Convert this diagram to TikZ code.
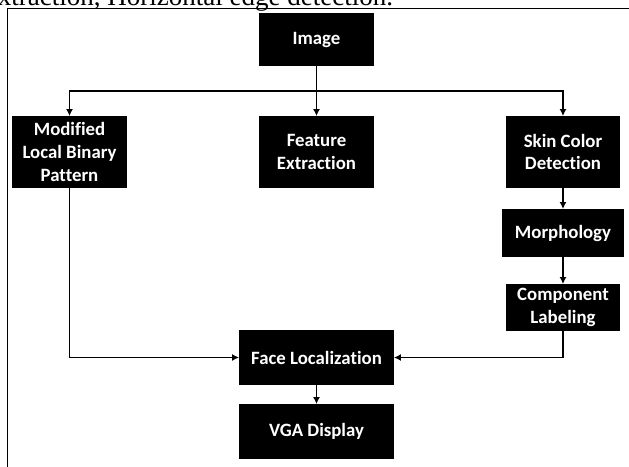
\documentclass[tikz,border=0pt]{standalone}
\usepackage{fontspec}
\setmainfont{Liberation Serif}
\newfontfamily\boxfont[Ligatures={NoCommon,NoContextual}]{Carlito}
\usetikzlibrary{positioning,arrows.meta}

\begin{document}
\begin{tikzpicture}[x=1pt,y=1pt,
  box/.style = {draw, fill=black, text=white, align=center, inner sep=0pt,
    font=\boxfont\bfseries\fontsize{18.8}{22.6}\selectfont,
    minimum width=113pt, minimum height=70pt},
  >={Latex[length=7pt,width=7pt]}, line width=1.9pt]
\useasboundingbox (0,0) rectangle (629,-466);
\draw[line width=1.5pt] (7.3,-480) -- (7.3,-8.3) -- (650,-8.3);
\node[anchor=base west, inner sep=0pt, font=\fontsize{27}{30}\selectfont] (0) at (-3,-5.5) {xtraction, Horizontal edge detection.};
\node[box, minimum height=51pt] (1) at (316.5,-39.5) {Image};
\node[box] (2) [node distance=112.5pt, below of=1] {Feature\\Extraction};
\node[box] (3) [node distance=247pt, left of=2] {Modified\\Local Binary\\Pattern};
\node[box] (4) [node distance=246.5pt, right of=2] {Skin Color\\Detection};
\node[box, minimum width=121pt, minimum height=46pt] (5) [node distance=81pt, below of=4] {Morphology};
\node[box, minimum height=45pt] (6) [node distance=74.5pt, below of=5] {Component\\Labeling};
\node[box, minimum width=153pt, minimum height=53pt] (7) [node distance=205.5pt, below of=2] {Face Localization};
\node[box, minimum width=153pt, minimum height=53pt] (8) [node distance=74pt, below of=7] {VGA Display};
\coordinate (s) at (316.5,-90.7);
\draw[->] (1) -- (2);
\draw[->] (s) -| (3);
\draw[->] (s) -| (4);
\draw[->] (4) -- (5);
\draw[->] (5) -- (6);
\draw[->] (3) |- (7);
\draw[->] (6) |- (7);
\draw[->] (7) -- (8);
\end{tikzpicture}
\end{document}
